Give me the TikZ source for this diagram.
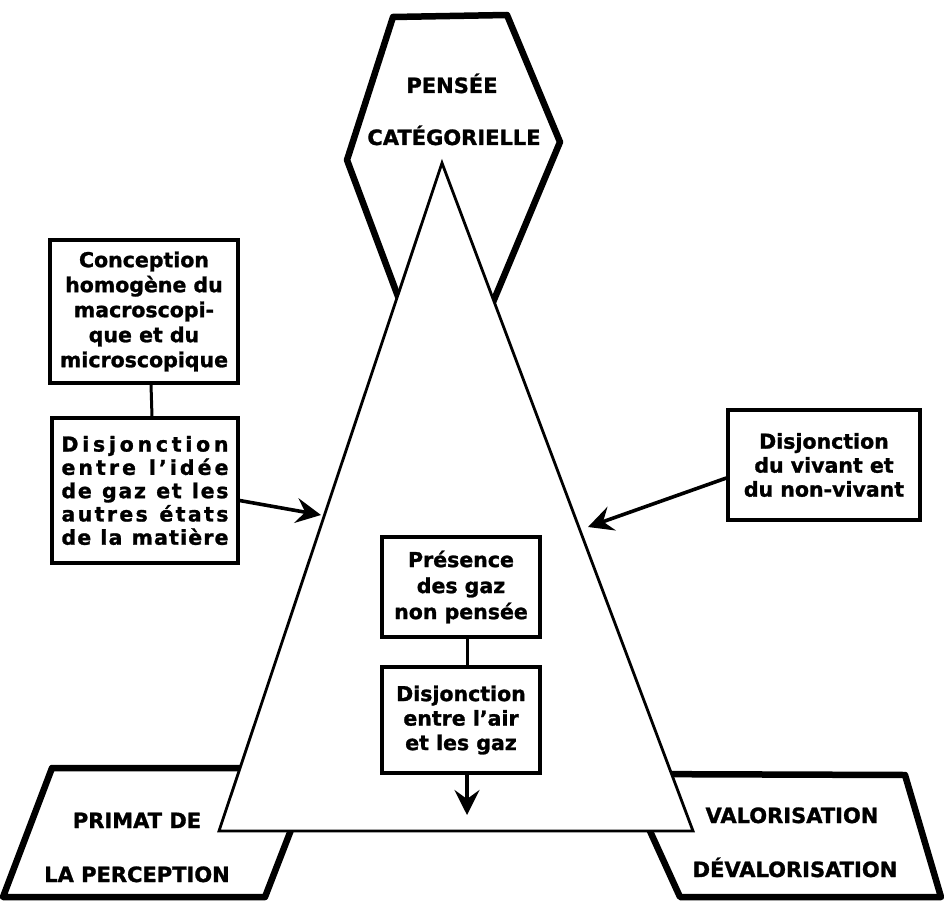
\documentclass[tikz,border=0pt]{standalone}
\usepackage{fontspec}
\setmainfont{DejaVu Sans}[BoldFeatures={FakeBold=1.3}]
\usetikzlibrary{arrows.meta}
\newcommand\spreadline[1]{\leavevmode\hbox to 167pt{\spreadfirst#1\relax}}
\def\spreadfirst#1{#1\spreadaux}
\def\spreadaux#1{\ifx#1\relax\else\hfill#1\expandafter\spreadaux\fi}
\tikzset{
  box/.style={draw, line width=3.2pt, inner sep=0pt, align=center,
    font=\bfseries\fontsize{20.5}{24.5}\selectfont},
  thickline/.style={line width=6.5pt, line join=round},
  tri/.style={draw, line width=2.8pt, fill=white, line join=miter},
  conn/.style={line width=3pt},
  arr/.style={line width=3.6pt, -{Stealth[length=25pt,width=25pt,inset=9pt]}},
  lab/.style={font=\bfseries\fontsize{21}{24}\selectfont, anchor=base, inner sep=0pt},
}
\begin{document}
\begin{tikzpicture}[x=1pt,y=-1pt]
\useasboundingbox (0,0) rectangle (944,901);
% hexagon
\draw[thickline] (393,17) -- (507,15) -- (560,142) -- (473,350) -- (418,350) -- (347,160) -- cycle;
% bottom shapes
\draw[thickline] (52,768) -- (315,768) -- (265,897) -- (3,897) -- cycle;
\draw[thickline] (624,774) -- (905,775) -- (941,897) -- (680,897) -- cycle;
% triangle
\draw[tri] (442,163) -- (693,831) -- (219,831) -- cycle;
% labels
\node[lab] (pensee) at (452,93) {PENSÉE};
\node[lab] (categ) at (454,145) {CATÉGORIELLE};
\node[lab] (primat) at (137,828) {PRIMAT DE};
\node[lab] (percep) at (137,882) {LA PERCEPTION};
\node[lab] (valo) at (792,823) {VALORISATION};
\node[lab] (devalo) at (795,877) {DÉVALORISATION};
% boxes
\node[box, minimum width=188pt, minimum height=143pt,
  font=\bfseries\fontsize{20.5}{25}\selectfont] (concep) at (144,311.5)
  {Conception\\homogène du\\macroscopi-\\que et du\\microscopique};
\node[box, minimum width=186pt, minimum height=145pt, text width=167pt, align=left,
  font=\bfseries\fontsize{20.5}{23.3}\selectfont] (disj) at (145,490.5)
  {\spreadline{Disjonction}\\\spreadline{entre~l’idée}\\\spreadline{de~gaz~et~les}\\\spreadline{autres~états}\\\spreadline{de~la~matière}};
\node[box, minimum width=192pt, minimum height=110pt,
  font=\bfseries\fontsize{20.5}{24}\selectfont] (viv) at (824,465)
  {Disjonction\\du vivant et\\du non-vivant};
\node[box, minimum width=158pt, minimum height=100pt,
  font=\bfseries\fontsize{20.5}{26}\selectfont] (pres) at (461,587)
  {Présence\\des gaz\\non pensée};
\node[box, minimum width=158pt, minimum height=106pt] (air) at (461,720)
  {Disjonction\\entre l’air\\et les gaz};
% connectors
\draw[conn] ([xshift=7pt]concep.south) -- ([xshift=7pt]disj.north);
\draw[conn] ([xshift=6pt]pres.south) -- ([xshift=6pt]air.north);
\coordinate (ltip) at (321,515);
\coordinate (rtip) at (588,527);
\coordinate (dtip) at (467,815);
\draw[arr] ([yshift=-10pt]disj.east) -- (ltip);
\draw[arr] ([yshift=-13pt]viv.west) -- (rtip);
\draw[arr] ([xshift=6pt]air.south) -- (dtip);
\end{tikzpicture}
\end{document}
